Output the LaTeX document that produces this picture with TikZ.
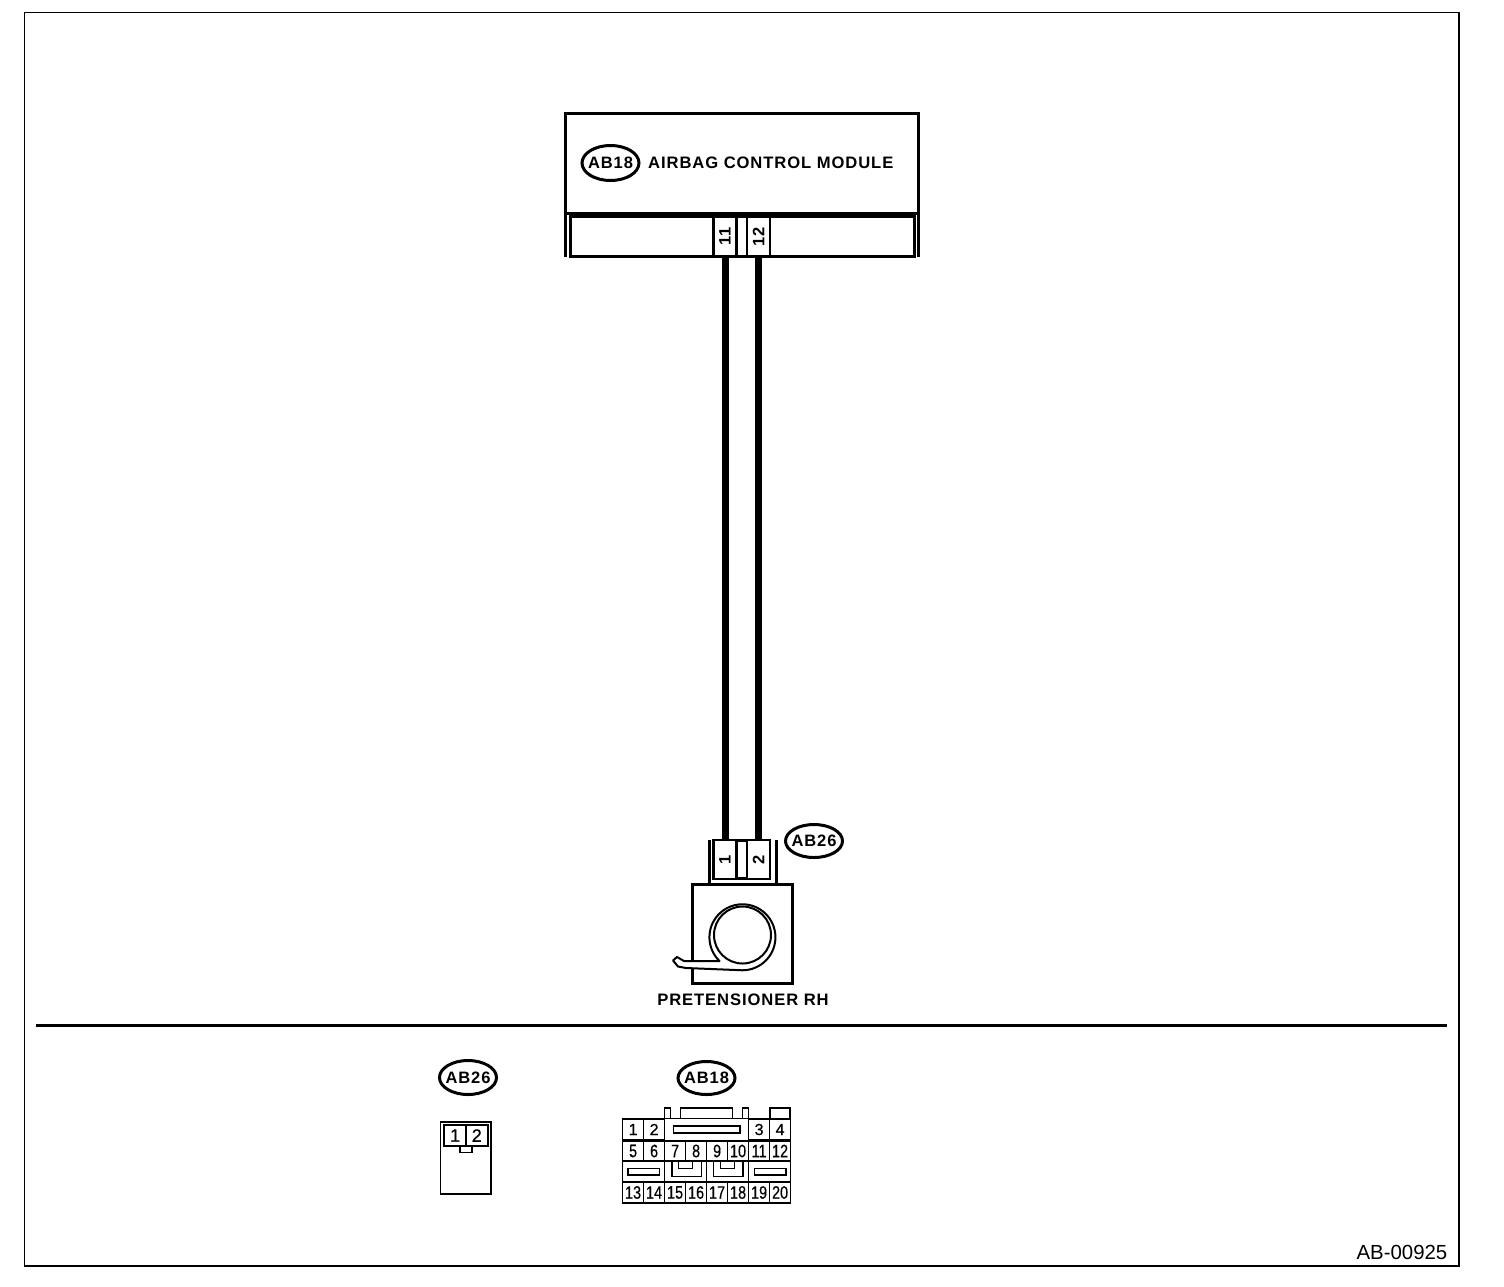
\documentclass[tikz,border=0pt]{standalone}
\usepackage{fontspec}
\setmainfont{Liberation Sans}
\newfontfamily\boldlabel[LetterSpace=5.5]{Liberation Sans Bold}
\newfontfamily\digitfont[FakeBold=0.5]{Liberation Sans}
\usetikzlibrary{calc,shapes.geometric}
\tikzset{
  frameline/.style={draw=black,line width=1.6},
  heavy/.style={draw=black,line width=3},
  wire/.style={draw=black,line width=7},
  tagoval/.style={draw=black,line width=3,ellipse,inner sep=0,minimum width=56,minimum height=31,font=\boldlabel\fontsize{16.5}{17}\selectfont},
  namelabel/.style={inner sep=0,anchor=west,font=\boldlabel\fontsize{16.6}{17}\selectfont},
  pinbox/.style={draw=black,line width=2.4,inner sep=0,minimum width=23,minimum height=39,font=\boldlabel\fontsize{16.5}{17}\selectfont},
  cell/.style={draw=black,line width=1.7,inner sep=0,minimum width=21,minimum height=20.5,font=\digitfont\fontsize{18}{19}\selectfont},
  smallcell/.style={cell,font=\digitfont\fontsize{16}{17}\selectfont},
  thin line/.style={draw=black,line width=1.7},
}
\newcommand{\cnum}[1]{\scalebox{0.8}[1]{#1}}
\newcommand{\tagtext}[1]{\makebox[0pt]{\raisebox{-5.9pt}[0pt][0pt]{#1}}}
\begin{document}
\begin{tikzpicture}[x=1pt,y=-1pt]
\useasboundingbox (0,0) rectangle (1504,1286);
\fill[white] (0,0) rectangle (1504,1286);
% outer frame and divider
\path[frameline] (24.5,12.5) rectangle (1459,1266);
\draw[black,line width=3] (36,1025) -- (1447,1025);
\node[inner sep=0,anchor=south east,font=\fontsize{20.4}{21}\selectfont] (code) at (1447.5,1259.5) {AB-00925};

% airbag control module
\path[heavy] (565,257) -- (565,113) -- (918,113) -- (918,257);
\path[heavy] (565,213) -- (918,213);
\node[heavy,rectangle,inner sep=0,minimum width=344,minimum height=39.5] (modconn) at (742.3,236.7) {};
\node[tagoval,minimum width=57,minimum height=35] (ab18top) at (610.5,163) {\tagtext{AB18}};
\node[namelabel] (modname) at (648,163) {AIRBAG CONTROL MODULE};
\node[pinbox] (p11) at (725,236.7) {\rotatebox{90}{11}};
\node[pinbox] (p12) at (758.5,236.7) {\rotatebox{90}{12}};

% pretensioner
\path[heavy] (709,840) -- (709,884);
\path[heavy] (776,840) -- (776,884);
\node[pinbox] (p1) at (725,859.5) {\rotatebox{90}{1}};
\node[pinbox] (p2) at (758.5,859.5) {\rotatebox{90}{2}};
\path[heavy] (736.5,840) -- (747,840);
\path[heavy] (736.5,878.5) -- (747,878.5);
\node[heavy,rectangle,inner sep=0,minimum width=100,minimum height=99] (pret) at (742,934) {};
\node[tagoval,minimum width=57,minimum height=33] (ab26top) at (814,841) {\tagtext{AB26}};
\node[namelabel,anchor=center] (pretname) at (743,1000) {PRETENSIONER RH};
% retractor
\draw[black,line width=2,line join=round,fill=white]
  (684,961) -- (719.5,961) arc[start angle=134,end angle=450,radius=33] -- (686,968) -- (678,966.5) -- (673,960.5) -- (677,957) -- cycle;
\draw[black,line width=2,fill=white] (742.5,935) circle[radius=28.5];

% wires
\path[wire] (p11.south) -- (p1.north);
\path[wire] (p12.south) -- (p2.north);

% AB26 view
\node[tagoval,minimum width=57,minimum height=34] (ab26b) at (468,1077.5) {\tagtext{AB26}};
\node[thin line,rectangle,inner sep=0,minimum width=50.5,minimum height=72.5] (c26) at (465.8,1158) {};
\node[cell,minimum width=21.7,minimum height=21] (t1) at (455.1,1135.5) {1};
\node[cell,minimum width=21.7,minimum height=21] (t2) at (476.8,1135.5) {2};
\node[thin line,rectangle,inner sep=0,minimum width=11.4,minimum height=6.3] (tab) at (466,1149.2) {};

% AB18 view
\node[tagoval,minimum width=57,minimum height=33] (ab18b) at (706.5,1078) {\tagtext{AB18}};
\foreach \n/\c in {1/0,2/1,3/6,4/7}
  \node[smallcell] (c\n) at ({633.1+21*\c},1129.5) {\n};
\foreach \n/\c in {5/0,6/1,7/2,8/3,9/4,10/5,11/6,12/7}
  \node[cell] (c\n) at ({633.1+21*\c},1151) {\cnum{\n}};
\foreach \n/\c in {13/0,14/1,15/2,16/3,17/4,18/5,19/6,20/7}
  \node[cell] (c\n) at ({633.1+21*\c},1192.5) {\cnum{\n}};
\node[cell,minimum width=84,minimum height=22] (midtop) at (706.6,1129.5) {};
\node[cell,minimum width=42,minimum height=20.5] (midL) at (643.6,1171.7) {};
\node[cell,minimum width=42,minimum height=20.5] (midC1) at (685.6,1171.7) {};
\node[cell,minimum width=42,minimum height=20.5] (midC2) at (727.6,1171.7) {};
\node[cell,minimum width=42,minimum height=20.5] (midR) at (769.6,1171.7) {};
\path[thin line] (628,1168.5) rectangle (659.5,1175);
\path[thin line] (754.5,1168.5) rectangle (786,1175);
\path[thin line] (673.5,1126) rectangle (740,1133);
\path[thin line] (664.5,1118) -- (664.5,1108) -- (670.5,1108) -- (670.5,1118);
\path[thin line] (680.5,1118) -- (680.5,1108) -- (732.5,1108) -- (732.5,1118);
\path[thin line] (742.5,1118) -- (742.5,1108) -- (748.5,1108) -- (748.5,1118);
\path[thin line] (770,1118) -- (770,1108) -- (790.3,1108) -- (790.3,1118);
\path[thin line] (672,1161) -- (672,1176.5) -- (701.5,1176.5) -- (701.5,1161);
\path[thin line] (678.5,1161) -- (678.5,1168.5) -- (692.5,1168.5) -- (692.5,1161);
\path[thin line] (713.5,1161) -- (713.5,1176.5) -- (743,1176.5) -- (743,1161);
\path[thin line] (720.5,1161) -- (720.5,1168.5) -- (734.5,1168.5) -- (734.5,1161);
\end{tikzpicture}
\end{document}
